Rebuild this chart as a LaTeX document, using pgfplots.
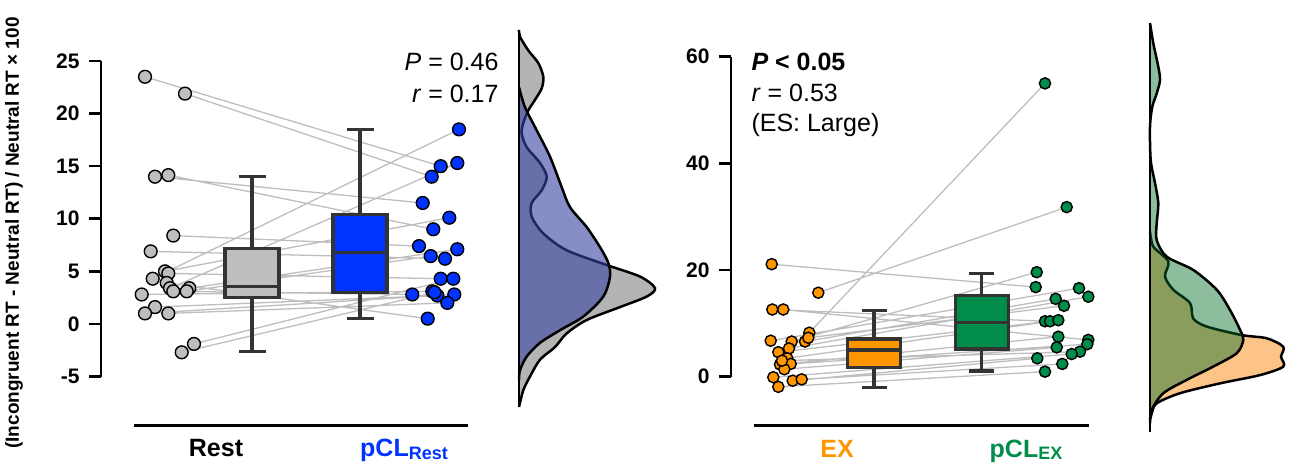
\documentclass[border=0pt]{standalone}
\usepackage{fontspec}
\setmainfont{Liberation Sans}
\usepackage{pgfplots}
\pgfplotsset{compat=1.18}

\definecolor{boxline}{HTML}{333333}
\definecolor{restgray}{HTML}{BEBEBE}
\definecolor{pclblue}{HTML}{0033FF}
\definecolor{exorange}{HTML}{FF9600}
\definecolor{pclgreen}{HTML}{008C4B}
\definecolor{linegray}{HTML}{BEBEBE}
\definecolor{densgray}{HTML}{B4B4B4}
\definecolor{densblue}{RGB}{55,65,160}
\definecolor{densorange}{HTML}{FDC488}
\definecolor{densgreen}{RGB}{0,110,40}

\pgfplotsset{
  mainax/.style={scale only axis, clip=false, axis on top,
    axis x line=none, axis y line*=left,
    axis line style={line width=2.6pt, black},
    tick align=outside, major tick length=12pt,
    tick style={black, line width=2.6pt},
    xtick=\empty,
    yticklabel style={font=\fontsize{21}{21}\selectfont\bfseries, xshift=-6pt}},
  densax/.style={scale only axis, clip=false, axis on top,
    axis x line=none, axis y line*=left, ytick=\empty, xtick=\empty,
    axis line style={line width=2.6pt, black}},
  conn/.style={linegray, line width=1.3pt, unbounded coords=jump},
  bx/.style={draw=boxline, line width=3.2pt, line join=miter},
  wk/.style={draw=boxline, line width=3.2pt, unbounded coords=jump},
}

\begin{document}
\begin{tikzpicture}
\useasboundingbox (0pt,0pt) rectangle (1295pt,-467pt);

\node[rotate=90, font=\fontsize{19}{19}\selectfont\bfseries] at (14pt,-233pt)
  {(Incongruent RT - Neutral RT) / Neutral RT × 100};

% ---------------- Left main panel ----------------
\begin{axis}[mainax, at={(101pt,-376.5pt)}, anchor=south west,
  width=371pt, height=315.5pt, xmin=101, xmax=472, ymin=-5, ymax=25,
  ytick={-5,0,5,10,15,20,25}, yticklabels={-5,0,5,10,15,20,25}]
\addplot[conn] coordinates {
 (145,23.5) (440.7,15.0) (nan,nan)
 (185,21.9) (431.7,14.0) (nan,nan)
 (155,14.0) (422.7,11.5) (nan,nan)
 (168.3,14.15) (433.3,9.0) (nan,nan)
 (173.3,8.4) (419,7.4) (nan,nan)
 (150.7,6.9) (445,6.2) (nan,nan)
 (165,5.0) (449.3,10.1) (nan,nan)
 (168.3,4.8) (440.7,4.3) (nan,nan)
 (152.7,4.3) (459,18.5) (nan,nan)
 (166.7,3.9) (427.7,0.5) (nan,nan)
 (170,3.4) (457.3,15.3) (nan,nan)
 (173.3,3.1) (412.3,2.8) (nan,nan)
 (189.3,3.4) (457.3,7.1) (nan,nan)
 (186.7,3.1) (430.7,6.45) (nan,nan)
 (141.7,2.8) (432.3,3.1) (nan,nan)
 (155,1.6) (437.3,2.7) (nan,nan)
 (145,1.0) (454.3,2.8) (nan,nan)
 (168.3,1.0) (447.3,2.0) (nan,nan)
 (194,-1.9) (453.3,4.3) (nan,nan)
 (181.7,-2.7) (434.5,3.0)
};
% Rest box: whiskers, box, median
\addplot[wk] coordinates {(252,7.2) (252,14.05) (nan,nan) (238.5,14.05) (265.5,14.05) (nan,nan)
  (252,2.5) (252,-2.6) (nan,nan) (238.5,-2.6) (265.5,-2.6)};
\addplot[bx, fill=restgray] coordinates {(225,2.5) (279,2.5) (279,7.2) (225,7.2)} -- cycle;
\addplot[bx] coordinates {(225,3.55) (279,3.55)};
% pCL box
\addplot[wk] coordinates {(360,10.4) (360,18.5) (nan,nan) (346.5,18.5) (373.5,18.5) (nan,nan)
  (360,3.0) (360,0.5) (nan,nan) (346.5,0.5) (373.5,0.5)};
\addplot[bx, fill=pclblue] coordinates {(333,3.0) (387,3.0) (387,10.4) (333,10.4)} -- cycle;
\addplot[bx] coordinates {(333,6.8) (387,6.8)};
\addplot[only marks, mark=*, mark size=6.4pt,
  mark options={fill=restgray, draw=black, line width=1.4pt}] coordinates {
 (145,23.5) (185,21.9) (155,14.0) (168.3,14.15) (173.3,8.4) (150.7,6.9)
 (165,5.0) (168.3,4.8) (152.7,4.3) (166.7,3.9) (170,3.4) (173.3,3.1)
 (189.3,3.4) (186.7,3.1) (141.7,2.8) (155,1.6) (145,1.0) (168.3,1.0)
 (194,-1.9) (181.7,-2.7)};
\addplot[only marks, mark=*, mark size=6.4pt,
  mark options={fill=pclblue, draw=black, line width=1.4pt}] coordinates {
 (459,18.5) (440.7,15.0) (457.3,15.3) (431.7,14.0) (422.7,11.5) (449.3,10.1)
 (433.3,9.0) (419,7.4) (457.3,7.1) (430.7,6.45) (445,6.2) (440.7,4.3)
 (453.3,4.3) (412.3,2.8) (432.3,3.1) (437.3,2.7) (454.3,2.8) (447.3,2.0)
 (427.7,0.5) (434.5,3.0)};
\draw[line width=2.6pt] (axis cs:134,-9.68) -- (axis cs:468,-9.68);
\node[anchor=base, font=\fontsize{25}{25}\selectfont\bfseries] at (axis cs:216,-12.65) {Rest};
\node[anchor=base, text=pclblue, font=\fontsize{25}{25}\selectfont\bfseries] at (axis cs:404,-12.65)
  {pCL\raisebox{-2.5pt}{\fontsize{18}{18}\selectfont Rest}};
\node[anchor=base east, font=\fontsize{25}{25}\selectfont] at (axis cs:502,24.13) {\textit{P} = 0.46};
\node[anchor=base east, font=\fontsize{25}{25}\selectfont] at (axis cs:502,21.09) {\textit{r} = 0.17};
\end{axis}

% ---------------- Left density ----------------
\begin{axis}[densax, at={(519pt,-407pt)}, anchor=south west,
  width=160pt, height=377pt, xmin=0, xmax=160, ymin=-7.9, ymax=27.94]
\addplot[smooth, fill=densgray, draw=black, line width=2.5pt] coordinates {
 (0,27.95) (1,27.3) (9.3,26.0) (19.3,24.8) (24.3,23.5) (22.7,22.4) (16,21.3)
 (9.3,20.3) (4.3,19.1) (2.7,18.1) (7.7,16.8) (21,15.3) (27.7,14.0) (22.7,12.7)
 (12.7,11.5) (12.7,10.2) (24.3,8.6) (47.7,7.0) (87.7,5.6) (121,4.5) (136,3.4)
 (127.7,2.6) (101,1.6) (67.7,0.37) (47.7,-0.9) (36,-2.2) (21,-3.4) (11,-5.0)
 (4.3,-6.3) (0,-7.9)};
\addplot[smooth, fill=densblue, fill opacity=0.6, draw=black, line width=2.5pt] coordinates {
 (0,22.5) (6,20.6) (17.7,18.4) (31,15.9) (42.7,13.0) (51,11.1) (67.7,9.2)
 (81,7.3) (89.3,5.8) (91,4.5) (84.3,2.6) (64.3,0.7) (41,-0.6) (21,-1.8)
 (7.7,-3.1) (1,-4.4) (0,-5.3)};
\end{axis}

% ---------------- Right main panel ----------------
\begin{axis}[mainax, at={(731pt,-376.7pt)}, anchor=south west,
  width=369pt, height=320pt, xmin=731, xmax=1100, ymin=0, ymax=60,
  ytick={0,20,40,60}, yticklabels={0,20,40,60}]
\addplot[conn] coordinates {
 (771.7,21.1) (1035.7,16.8) (nan,nan)
 (818.3,15.75) (1066.7,31.8) (nan,nan)
 (772.3,12.6) (1045,10.4) (nan,nan)
 (783.3,12.6) (1088.3,6.9) (nan,nan)
 (809.3,8.25) (1045,55.0) (nan,nan)
 (770.7,6.75) (1079,16.6) (nan,nan)
 (791.7,6.6) (1036.7,19.6) (nan,nan)
 (805,6.6) (1055.7,14.6) (nan,nan)
 (808.3,7.3) (1064,13.3) (nan,nan)
 (778.3,4.6) (1050,10.4) (nan,nan)
 (789,5.3) (1088.3,15.0) (nan,nan)
 (787.3,3.45) (1058.3,10.6) (nan,nan)
 (780,2.3) (1058.3,7.5) (nan,nan)
 (790.7,2.4) (1087.3,6.1) (nan,nan)
 (784.3,1.4) (1056.7,5.5) (nan,nan)
 (782,3.0) (1080,4.7) (nan,nan)
 (773.3,-0.1) (1071.7,4.25) (nan,nan)
 (792.7,-0.75) (1037.3,3.45) (nan,nan)
 (801.7,-0.5) (1062.3,2.4) (nan,nan)
 (778.3,-1.9) (1045,0.95)
};
% EX box
\addplot[wk] coordinates {(874,7.07) (874,12.45) (nan,nan) (861.5,12.45) (886.5,12.45) (nan,nan)
  (874,1.7) (874,-2.0) (nan,nan) (861.5,-2.0) (886.5,-2.0)};
\addplot[bx, fill=exorange] coordinates {(847.5,1.7) (900.5,1.7) (900.5,7.07) (847.5,7.07)} -- cycle;
\addplot[bx] coordinates {(847.5,5.0) (900.5,5.0)};
% pCL EX box
\addplot[wk] coordinates {(981.7,15.3) (981.7,19.4) (nan,nan) (969.2,19.4) (994.2,19.4) (nan,nan)
  (981.7,5.2) (981.7,1.07) (nan,nan) (969.2,1.07) (994.2,1.07)};
\addplot[bx, fill=pclgreen] coordinates {(955.2,5.2) (1008.2,5.2) (1008.2,15.3) (955.2,15.3)} -- cycle;
\addplot[bx] coordinates {(955.2,10.2) (1008.2,10.2)};
\addplot[only marks, mark=*, mark size=5.6pt,
  mark options={fill=exorange, draw=black, line width=1.4pt}] coordinates {
 (771.7,21.1) (818.3,15.75) (772.3,12.6) (783.3,12.6) (809.3,8.25) (770.7,6.75)
 (791.7,6.6) (805,6.6) (808.3,7.3) (778.3,4.6) (789,5.3) (787.3,3.45)
 (780,2.3) (790.7,2.4) (784.3,1.4) (782,3.0) (773.3,-0.1) (792.7,-0.75)
 (801.7,-0.5) (778.3,-1.9)};
\addplot[only marks, mark=*, mark size=5.6pt,
  mark options={fill=pclgreen, draw=black, line width=1.4pt}] coordinates {
 (1045,55.0) (1066.7,31.8) (1036.7,19.6) (1035.7,16.8) (1079,16.6) (1088.3,15.0)
 (1055.7,14.6) (1064,13.3) (1045,10.4) (1050,10.4) (1058.3,10.6) (1058.3,7.5)
 (1088.3,6.9) (1087.3,6.1) (1056.7,5.5) (1080,4.7) (1071.7,4.25) (1037.3,3.45)
 (1062.3,2.4) (1045,0.95)};
\draw[line width=2.6pt] (axis cs:754,-9.19) -- (axis cs:1089,-9.19);
\node[anchor=base, text=exorange, font=\fontsize{25}{25}\selectfont\bfseries] at (axis cs:837,-15.06) {EX};
\node[anchor=base, text=pclgreen, font=\fontsize{25}{25}\selectfont\bfseries] at (axis cs:1026,-15.06)
  {pCL\raisebox{-2.5pt}{\fontsize{18}{18}\selectfont EX}};
\node[anchor=base west, font=\fontsize{25}{25}\selectfont\bfseries] at (axis cs:748,57.5) {\textit{P} < 0.05};
\node[anchor=base west, font=\fontsize{25}{25}\selectfont] at (axis cs:748,51.6) {\textit{r} = 0.53};
\node[anchor=base west, font=\fontsize{25}{25}\selectfont] at (axis cs:748,45.9) {(ES: Large)};
\end{axis}

% ---------------- Right density ----------------
\begin{axis}[densax, at={(1150pt,-432pt)}, anchor=south west,
  width=145pt, height=409pt, xmin=0, xmax=145, ymin=-10.37, ymax=66.3]
\addplot[smooth, fill=densorange, draw=black, line width=2.5pt] coordinates {
 (0,27.2) (3.3,24.4) (18.3,21.6) (15,18.8) (23.3,16.3) (40,13.8) (43.3,10.9)
 (56.7,9.4) (91.7,7.8) (116.7,7.2) (133.3,5.6) (131,3.75) (133.3,1.9) (110,0.3)
 (70,-1.25) (30,-3.1) (6.7,-5.0) (1.7,-6.9) (0,-8.1)};
\addplot[smooth, fill=densgreen, fill opacity=0.45, draw=black, line width=2.5pt] coordinates {
 (0,66.3) (3.3,62.5) (8.3,58.1) (10,55.6) (6.7,53.1) (2.3,50.6) (0,46.9)
 (0.7,40.6) (5,36.3) (8.3,32.5) (6.7,28.8) (6.7,25.6) (16.7,22.5) (43.3,20.0)
 (66.7,16.3) (80,12.5) (90,8.8) (93.3,6.9) (86.7,4.4) (63.3,1.9) (36.7,-0.6)
 (13.3,-3.1) (1.7,-6.2) (0,-8.7)};
\end{axis}
\end{tikzpicture}
\end{document}
